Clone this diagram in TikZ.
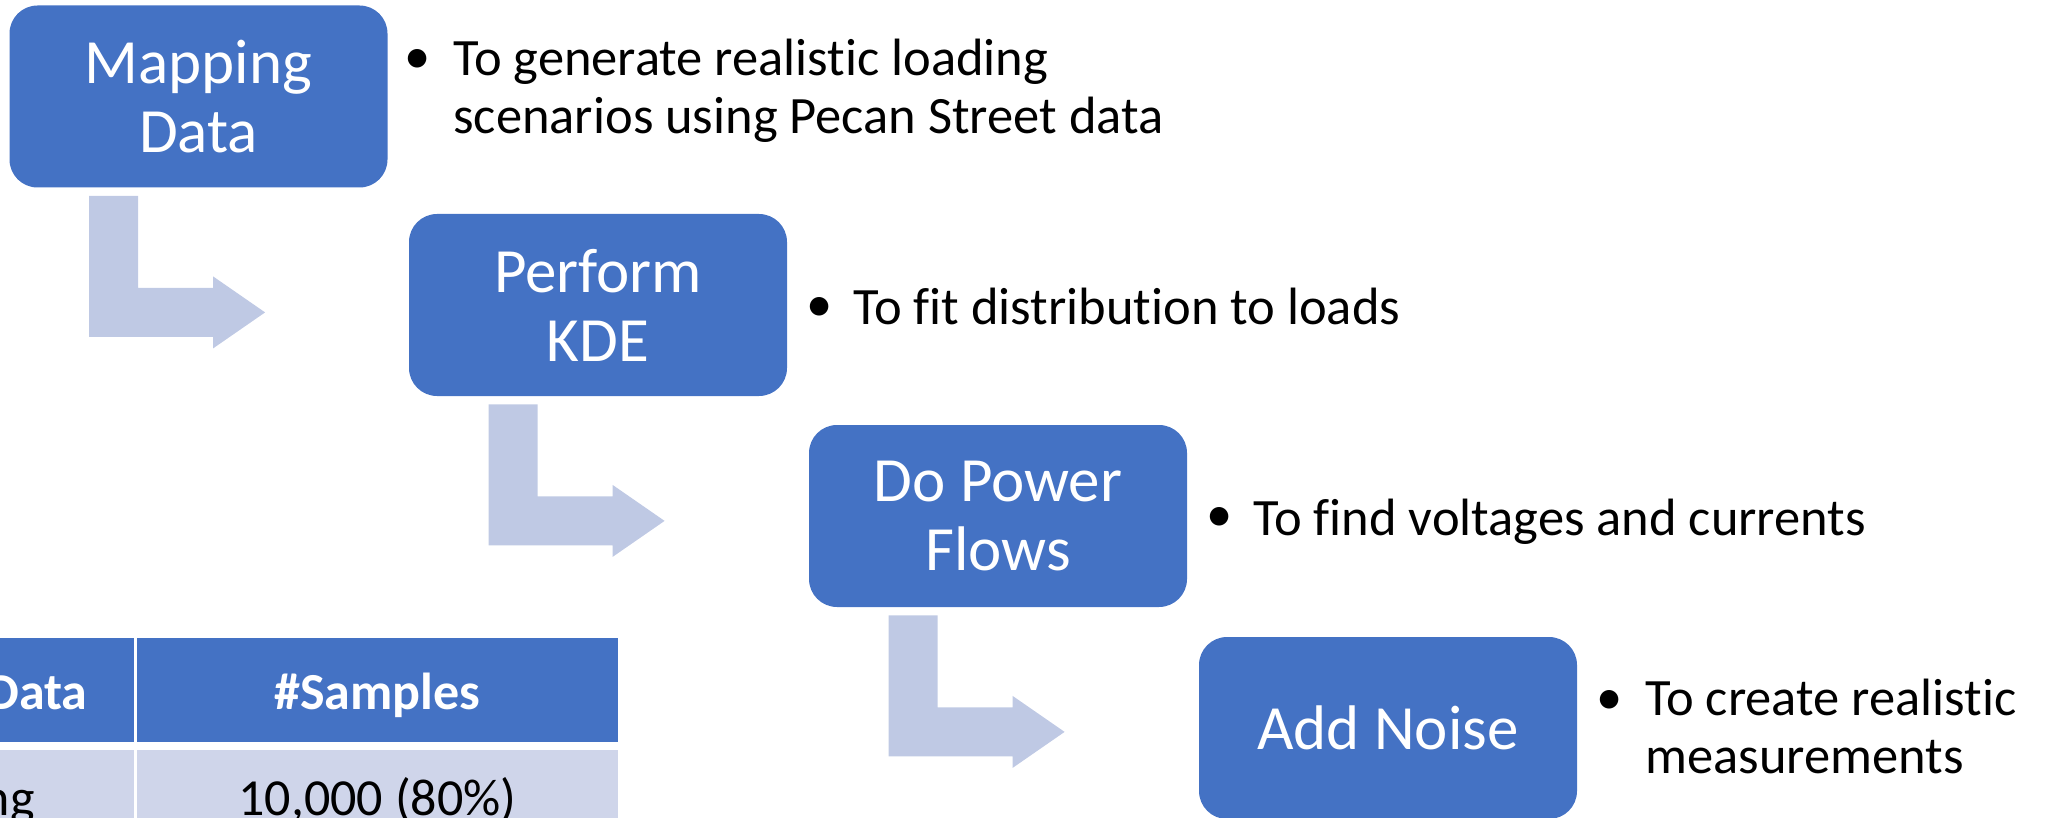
\documentclass[tikz,border=0pt]{standalone}
\usepackage{fontspec}
\setmainfont[Ligatures=NoCommon]{Carlito}
\definecolor{stageblue}{HTML}{4472C4}
\definecolor{bendtint}{HTML}{BFC9E4}
\definecolor{rowtint}{HTML}{CFD5EA}
\begin{document}
\begin{tikzpicture}[x=0.5pt,y=0.5pt]
\tikzstyle{every node}+=[inner sep=0pt]
\tikzstyle{stage}=[rectangle, rounded corners=14pt, fill=stageblue, text=white, minimum width=189pt, minimum height=91pt, align=center, font=\fontsize{31.5}{34.5}\selectfont]
\tikzstyle{note}=[anchor=base west, align=left, font=\fontsize{26.25}{29}\selectfont]
\tikzstyle{dot}=[font=\fontsize{26.25}{29}\selectfont]
\tikzstyle{bentarrow}=[fill=bendtint]
\tikzstyle{hcell}=[fill=stageblue, text=white, minimum height=52pt, text height=19pt, text depth=0pt, font=\fontsize{26}{29}\selectfont\bfseries]
\tikzstyle{rcell}=[fill=rowtint, minimum height=52pt, text height=13pt, text depth=0pt, font=\fontsize{26}{29}\selectfont]
\clip (0,0) rectangle (2049,-818);
\node [stage] (map) at (198.5,-96.5) {Mapping\\Data};
\node [stage] (kde) at (598,-305) {Perform\\KDE};
\node [stage] (pf) at (998,-516) {Do Power\\Flows};
\node [stage] (noise) at (1388,-728) {Add Noise};
% bent arrows under each stage
\foreach \s in {map,kde,pf}
  \fill [bentarrow, shift={(\s.south west)}] (80,-8) -- (129,-8) -- (129,-100) -- (204,-100) -- (204,-88.5) -- (256,-124.5) -- (204,-160.5) -- (204,-149) -- (80,-149) -- cycle;
% notes (base = last line)
\node [dot] (d1) at (418,-61) {•};
\node [note] (t1) at (453,-134) {To generate realistic loading\\scenarios using Pecan Street data};
\node [dot] (d2) at (820,-309) {•};
\node [note] (t2) at (853,-324) {To fit distribution to loads};
\node [dot] (d3) at (1220,-519) {•};
\node [note] (t3) at (1253,-535) {To find voltages and currents};
\node [dot] (d4) at (1610,-702) {•};
\node [note] (t4) at (1645,-773) {To create realistic\\measurements};
% table
\node [hcell, anchor=east, minimum width=200pt] (h1) at (134,-690) {};
\node [hcell, minimum width=240.5pt] (h2) at (377.5,-690) {\#Samples};
\node [rcell, anchor=east, minimum width=200pt] (r1) at (134,-802) {};
\node [rcell, minimum width=240.5pt] (r2) at (377.5,-802) {10,000 (80\%)};
\node [anchor=base east, text=white, font=\fontsize{26}{29}\selectfont\bfseries] (h1text) at (88,-709) {Data};
\node [anchor=base east, font=\fontsize{26}{29}\selectfont] (r1text) at (35,-815) {ng};
\end{tikzpicture}
\end{document}
